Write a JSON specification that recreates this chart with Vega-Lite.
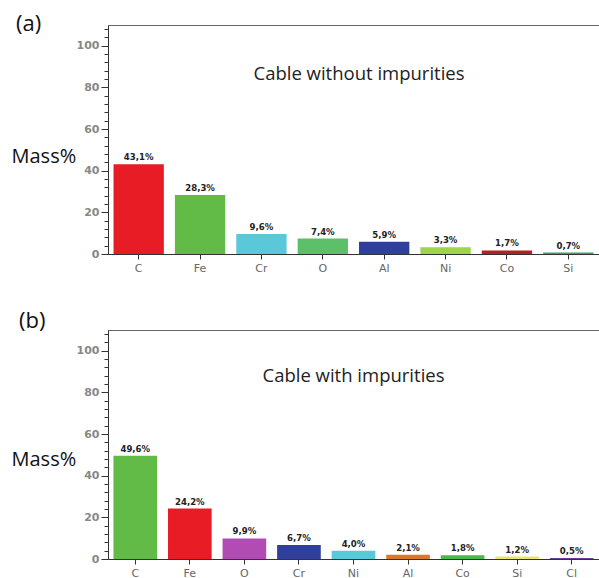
{
  "$schema": "https://vega.github.io/schema/vega-lite/v6.json",
  "padding": {"left": 10, "top": 12, "right": 0, "bottom": 0},
  "background": "white",
  "config": {"view": {"stroke": "#666", "strokeWidth": 1}, "concat": {"spacing": 35}},
  "resolve": {"scale": {"color": "independent", "x": "independent", "y": "independent"}},
  "datasets": {
    "a": [
      {"element": "C", "mass": 43.1, "label": "43,1%"},
      {"element": "Fe", "mass": 28.3, "label": "28,3%"},
      {"element": "Cr", "mass": 9.6, "label": "9,6%"},
      {"element": "O", "mass": 7.4, "label": "7,4%"},
      {"element": "Al", "mass": 5.9, "label": "5,9%"},
      {"element": "Ni", "mass": 3.3, "label": "3,3%"},
      {"element": "Co", "mass": 1.7, "label": "1,7%"},
      {"element": "Si", "mass": 0.7, "label": "0,7%"}
    ],
    "b": [
      {"element": "C", "mass": 49.6, "label": "49,6%"},
      {"element": "Fe", "mass": 24.2, "label": "24,2%"},
      {"element": "O", "mass": 9.9, "label": "9,9%"},
      {"element": "Cr", "mass": 6.7, "label": "6,7%"},
      {"element": "Ni", "mass": 4.0, "label": "4,0%"},
      {"element": "Al", "mass": 2.1, "label": "2,1%"},
      {"element": "Co", "mass": 1.8, "label": "1,8%"},
      {"element": "Si", "mass": 1.2, "label": "1,2%"},
      {"element": "Cl", "mass": 0.5, "label": "0,5%"}
    ]
  },
  "vconcat": [
    {
      "width": 491,
      "height": 229,
      "title": {"text": "(a)", "anchor": "start", "frame": "bounds", "fontSize": 22, "font": "Open Sans", "fontWeight": "normal", "color": "#111", "dx": 5, "dy": 11, "offset": 0},
      "data": {"name": "a"},
      "encoding": {
        "x": {"field": "element", "type": "nominal", "sort": null,
          "scale": {"paddingInner": 0.18, "paddingOuter": 0.09},
          "axis": {"title": null, "labelAngle": 0, "labelColor": "#666", "labelFont": "DejaVu Sans", "labelFontSize": 11, "tickSize": 5, "tickColor": "#333", "domainColor": "#333", "labelPadding": 3}},
        "y": {"field": "mass", "type": "quantitative",
          "scale": {"domain": [0, 110], "nice": false},
          "axis": {"values": [0,4,8,12,16,20,24,28,32,36,40,44,48,52,56,60,64,68,72,76,80,84,88,92,96,100,104,108],
            "labelExpr": "datum.value % 20 === 0 ? datum.label : ''",
            "tickSize": {"condition": {"test": "datum.value % 20 === 0", "value": 7}, "value": 4},
            "grid": false, "domainColor": "#333", "tickColor": "#333", "labelColor": "#888", "labelFont": "DejaVu Sans", "labelFontWeight": "bold", "labelFontSize": 11, "labelPadding": 2,
            "title": "Mass%", "titleAngle": 0, "titleFont": "Open Sans", "titleFontSize": 20, "titleFontWeight": "normal", "titleColor": "#111", "titleX": -97, "titleY": 131, "titleAlign": "left", "titleBaseline": "middle"}}
      },
      "layer": [
        {"mark": {"type": "bar"},
          "encoding": {"color": {"field": "element", "type": "nominal", "legend": null,
            "scale": {"domain": ["C", "Fe", "Cr", "O", "Al", "Ni", "Co", "Si"], "range": ["#e81c24", "#62bb46", "#5ac8d8", "#5cbf6a", "#2e3f9c", "#9ed34a", "#b3202a", "#3aa070"]}}}},
        {"mark": {"type": "text", "baseline": "bottom", "dy": -2, "font": "DejaVu Sans Condensed", "fontWeight": "bold", "fontSize": 9.5, "color": "#222"},
          "encoding": {"text": {"field": "label"}}},
        {"data": {"values": [{"caption": "Cable without impurities", "element": "Al", "mass": 86.5}]},
          "mark": {"type": "text", "font": "Open Sans", "fontSize": 18.5, "color": "#222", "align": "center", "baseline": "middle"},
          "encoding": {"x": {"field": "element", "type": "nominal", "bandPosition": 0}, "text": {"field": "caption"}}}
      ]
    },
    {
      "width": 491,
      "height": 229,
      "title": {"text": "(b)", "anchor": "start", "frame": "bounds", "fontSize": 22, "font": "Open Sans", "fontWeight": "normal", "color": "#111", "dx": 8, "dy": 3, "offset": 0},
      "data": {"name": "b"},
      "encoding": {
        "x": {"field": "element", "type": "nominal", "sort": null,
          "scale": {"paddingInner": 0.2, "paddingOuter": 0.1},
          "axis": {"title": null, "labelAngle": 0, "labelColor": "#666", "labelFont": "DejaVu Sans", "labelFontSize": 11, "tickSize": 5, "tickColor": "#333", "domainColor": "#333", "labelPadding": 3}},
        "y": {"field": "mass", "type": "quantitative",
          "scale": {"domain": [0, 110], "nice": false},
          "axis": {"values": [0,4,8,12,16,20,24,28,32,36,40,44,48,52,56,60,64,68,72,76,80,84,88,92,96,100,104,108],
            "labelExpr": "datum.value % 20 === 0 ? datum.label : ''",
            "tickSize": {"condition": {"test": "datum.value % 20 === 0", "value": 7}, "value": 4},
            "grid": false, "domainColor": "#333", "tickColor": "#333", "labelColor": "#888", "labelFont": "DejaVu Sans", "labelFontWeight": "bold", "labelFontSize": 11, "labelPadding": 2,
            "title": "Mass%", "titleAngle": 0, "titleFont": "Open Sans", "titleFontSize": 20, "titleFontWeight": "normal", "titleColor": "#111", "titleX": -97, "titleY": 129, "titleAlign": "left", "titleBaseline": "middle"}}
      },
      "layer": [
        {"mark": {"type": "bar"},
          "encoding": {"color": {"field": "element", "type": "nominal", "legend": null,
            "scale": {"domain": ["C", "Fe", "O", "Cr", "Ni", "Al", "Co", "Si", "Cl"], "range": ["#62bb46", "#e81c24", "#b24bb4", "#2e3f9c", "#5ac8d8", "#d9782a", "#4cb848", "#e6e670", "#6a3c9c"]}}}},
        {"mark": {"type": "text", "baseline": "bottom", "dy": -2, "font": "DejaVu Sans Condensed", "fontWeight": "bold", "fontSize": 9.5, "color": "#222"},
          "encoding": {"text": {"field": "label"}}},
        {"data": {"values": [{"caption": "Cable with impurities", "element": "Ni", "mass": 88}]},
          "mark": {"type": "text", "font": "Open Sans", "fontSize": 18.5, "color": "#222", "align": "center", "baseline": "middle"},
          "encoding": {"x": {"field": "element", "type": "nominal", "bandPosition": 0.5}, "text": {"field": "caption"}}}
      ]
    }
  ]
}
